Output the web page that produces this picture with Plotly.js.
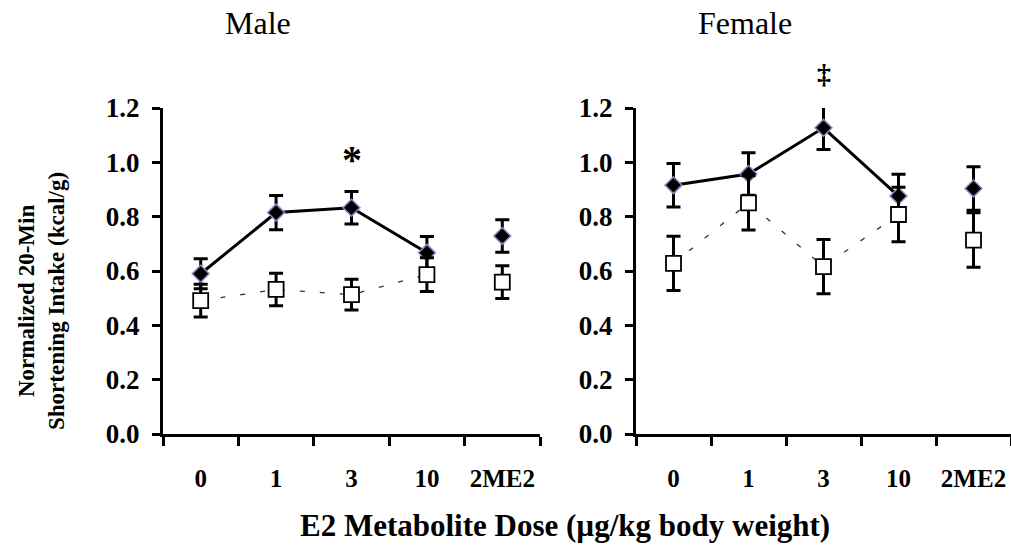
<!DOCTYPE html>
<html>
<head>
<meta charset="utf-8">
<script src="https://cdn.plot.ly/plotly-3.0.1.min.js"></script>
<style>html,body{margin:0;padding:0;background:#fff;}#chart{width:1011px;height:558px;}</style>
</head>
<body>
<div id="chart"></div>
<script>
const categories = ['0', '1', '3', '10', '2ME2'];
const maleE2 = [0.59, 0.815, 0.833, 0.667, 0.729];
const maleE2Err = [0.055, 0.063, 0.06, 0.06, 0.06];
const maleVeh = [0.491, 0.532, 0.513, 0.587, 0.559];
const maleVehErr = [0.06, 0.06, 0.057, 0.062, 0.06];
const femaleE2 = [0.916, 0.957, 1.127, 0.876, 0.904];
const femaleE2Err = [0.08, 0.078, 0.08, 0.08, 0.08];
const femaleVeh = [0.628, 0.851, 0.616, 0.808, 0.714];
const femaleVehErr = [0.1, 0.1, 0.1, 0.1, 0.1];
const panelTitles = ['Male', 'Female'];
const markMale = '*';
const markFemale = '\u2021';
const markCategoryIndex = 2; // category '3'

const W = 1011, H = 558;
const L = 163, R = 0, T = 108, B = 124;
const pw = W - L - R, ph = H - T - B;
const px = x => (x - L) / pw;
const py = y => (H - B - y) / ph;
const FONT = 'Liberation Serif, Times New Roman, serif';

function panel(xa, ya, e2, e2err, veh, veherr) {
  const lineCats = categories.slice(0, 4);
  return [
    {x: lineCats, y: veh.slice(0, 4), xaxis: xa, yaxis: ya, mode: 'lines', type: 'scatter',
     line: {color: '#333', width: 1.3, dash: '5px,15px'}, hoverinfo: 'skip'},
    {x: lineCats, y: e2.slice(0, 4), xaxis: xa, yaxis: ya, mode: 'lines', type: 'scatter',
     line: {color: '#000', width: 3}, hoverinfo: 'skip'},
    {x: categories, y: e2, xaxis: xa, yaxis: ya, mode: 'markers', type: 'scatter',
     marker: {symbol: 'diamond', size: 13, color: '#000', line: {color: '#8a8ac4', width: 1.5}},
     error_y: {type: 'data', array: e2err, visible: true, color: '#000', thickness: 3, width: 7}},
    {x: categories, y: veh, xaxis: xa, yaxis: ya, mode: 'markers', type: 'scatter',
     marker: {symbol: 'square', size: 15, color: '#fff', line: {color: '#000', width: 1.8}},
     error_y: {type: 'data', array: veherr, visible: true, color: '#000', thickness: 3, width: 7}}
  ];
}

const data = [].concat(
  panel('x', 'y', maleE2, maleE2Err, maleVeh, maleVehErr),
  panel('x2', 'y2', femaleE2, femaleE2Err, femaleVeh, femaleVehErr)
);

function xax(domain, range) {
  return {domain: domain, type: 'category', range: range, categoryorder: 'array', categoryarray: categories,
    tickson: 'boundaries', ticks: 'outside', ticklen: 9, tickwidth: 3, tickcolor: '#000', tickangle: 0,
    showline: true, linewidth: 3, linecolor: '#000', showgrid: false, zeroline: false,
    ticklabelstandoff: 20, tickfont: {family: FONT, size: 25, color: '#000', weight: 'bold'}};
}
function yax(anchor) {
  return {anchor: anchor, range: [0, 1.2], tickvals: [0, 0.2, 0.4, 0.6, 0.8, 1.0, 1.2],
    ticktext: ['0.0', '0.2', '0.4', '0.6', '0.8', '1.0', '1.2'],
    ticks: 'outside', ticklen: 8, tickwidth: 3, tickcolor: '#000',
    showline: true, linewidth: 3, linecolor: '#000', showgrid: false, zeroline: false,
    ticklabelstandoff: 7, tickfont: {family: FONT, size: 27, color: '#000', weight: 'bold'}};
}

const layout = {
  width: W, height: H, showlegend: false,
  margin: {l: L, r: R, t: T, b: B},
  paper_bgcolor: '#fff', plot_bgcolor: 'rgba(0,0,0,0)',
  xaxis: Object.assign(xax([0, px(540)], [-0.5, 4.5]), {anchor: 'y'}),
  yaxis: yax('x'),
  xaxis2: Object.assign(xax([px(636), 1], [-0.5, 4.5]), {anchor: 'y2'}),
  yaxis2: yax('x2'),
  annotations: [
    {xref: 'paper', yref: 'paper', x: px(258), y: py(23), text: panelTitles[0], showarrow: false,
     xanchor: 'center', yanchor: 'middle', font: {family: FONT, size: 32, color: '#000'}},
    {xref: 'paper', yref: 'paper', x: px(745), y: py(23), text: panelTitles[1], showarrow: false,
     xanchor: 'center', yanchor: 'middle', font: {family: FONT, size: 32, color: '#000'}},
    {xref: 'x', yref: 'y', x: markCategoryIndex, y: 1.04, text: markMale, showarrow: false,
     xanchor: 'center', yanchor: 'middle', yshift: -8, font: {family: FONT, size: 40, color: '#000', weight: 'bold'}},
    {xref: 'x2', yref: 'paper', x: markCategoryIndex, y: py(74), text: markFemale, showarrow: false,
     xanchor: 'center', yanchor: 'middle', font: {family: FONT, size: 28, color: '#000', weight: 'bold'}},
    {xref: 'paper', yref: 'paper', x: px(41), y: py(301), text: 'Normalized 20-Min<br>Shortening Intake (kcal/g)',
     showarrow: false, textangle: -90, xanchor: 'center', yanchor: 'middle',
     font: {family: FONT, size: 23, color: '#000', weight: 'bold'}},
    {xref: 'paper', yref: 'paper', x: px(565), y: py(525), text: 'E2 Metabolite Dose (\u00b5g/kg body weight)',
     showarrow: false, xanchor: 'center', yanchor: 'middle',
     font: {family: FONT, size: 31, color: '#000', weight: 'bold'}}
  ]
};

Plotly.newPlot('chart', data, layout, {displayModeBar: false, staticPlot: true});
</script>
</body>
</html>
